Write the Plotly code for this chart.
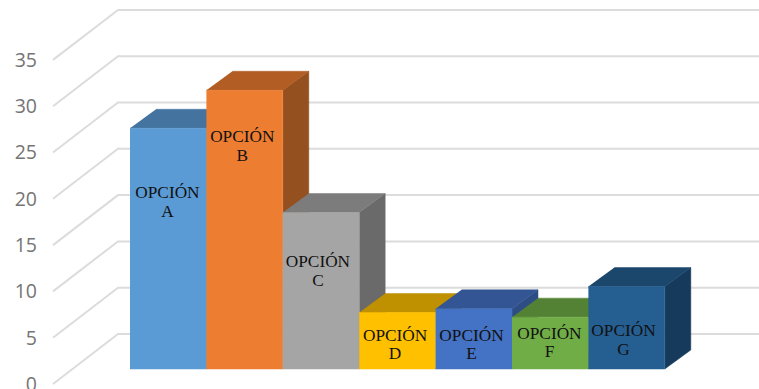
import plotly.graph_objects as go

# Survey results per option
options = ["A", "B", "C", "D", "E", "F", "G"]
values = [26, 30.1, 16.9, 6.1, 6.5, 5.6, 8.9]
front_colors = ["#5b9bd5", "#ed7d31", "#a5a5a5", "#ffc000", "#4472c4", "#70ad47", "#255e91"]
top_colors = ["#44739f", "#b15d24", "#7c7c7c", "#bf9000", "#335593", "#548235", "#1c476d"]
side_colors = ["#3a6488", "#94501e", "#6a6a6a", "#a37b00", "#2e4d85", "#47702e", "#163a5b"]
ticks = [0, 5, 10, 15, 20, 25, 30, 35]

# Label centres, in axis units (bar position, value height)
label_x = [0.49, 1.47, 2.46, 3.47, 4.47, 5.49, 6.46]
label_y = [19.5, 25.55, 12.05, 4.15, 4.15, 4.35, 4.6]

# Oblique projection of the pseudo-3D box
PX_PER_BAR = 76.4
PX_PER_UNIT = 9.26
LEFT, WIDTH, HEIGHT = 38, 759, 389
X0_PX, Y0_PX = 130, 384
BAR_DX, BAR_DY = 26 / PX_PER_BAR, 19 / PX_PER_UNIT
WALL_DX, WALL_DY = 65 / PX_PER_BAR, 50 / PX_PER_UNIT
WALL_X = (53 - X0_PX) / PX_PER_BAR
FLOOR = (Y0_PX - 369) / PX_PER_UNIT
X_MIN = (LEFT - X0_PX) / PX_PER_BAR
X_MAX = (WIDTH - X0_PX) / PX_PER_BAR
Y_MIN = (Y0_PX - HEIGHT) / PX_PER_UNIT
Y_MAX = Y0_PX / PX_PER_UNIT

fig = go.Figure()

# Side-wall diagonals and back-wall gridlines
for t in ticks:
    fig.add_trace(go.Scatter(
        x=[WALL_X, WALL_X + WALL_DX, X_MAX],
        y=[t, t + WALL_DY, t + WALL_DY],
        mode="lines",
        line=dict(color="#dcdcdc", width=2),
        hoverinfo="skip",
    ))


def face(xs, ys, color):
    fig.add_trace(go.Scatter(
        x=xs, y=ys, mode="lines", fill="toself", fillcolor=color,
        line=dict(color=color, width=0.5), hoverinfo="skip",
    ))


# Bars are painted left to right so that each one overlaps its left neighbour
for i, v in enumerate(values):
    top = FLOOR + v
    face([i + 1, i + 1 + BAR_DX, i + 1 + BAR_DX, i + 1],
         [FLOOR, FLOOR + BAR_DY, top + BAR_DY, top], side_colors[i])
    face([i, i + 1, i + 1 + BAR_DX, i + BAR_DX],
         [top, top, top + BAR_DY, top + BAR_DY], top_colors[i])
    face([i, i + 1, i + 1, i], [FLOOR, FLOOR, top, top], front_colors[i])

label_font = dict(family="Liberation Serif", size=17.3, color="#111111")
fig.add_trace(go.Scatter(
    x=label_x, y=[y + 1 for y in label_y], text=["OPCIÓN"] * len(options),
    mode="text", textposition="middle center", textfont=label_font, hoverinfo="skip",
))
fig.add_trace(go.Scatter(
    x=label_x, y=[y - 1 for y in label_y], text=options,
    mode="text", textposition="middle center", textfont=label_font, hoverinfo="skip",
))

fig.update_layout(
    width=WIDTH,
    height=HEIGHT,
    margin=dict(l=LEFT, r=0, t=0, b=0, autoexpand=False),
    paper_bgcolor="white",
    plot_bgcolor="white",
    showlegend=False,
    xaxis=dict(range=[X_MIN, X_MAX], visible=False, fixedrange=True),
    yaxis=dict(
        range=[Y_MIN, Y_MAX],
        tickmode="array",
        tickvals=ticks,
        ticktext=[str(t) for t in ticks],
        showgrid=False,
        zeroline=False,
        showline=False,
        ticks="",
        ticklabeloverflow="allow",
        tickfont=dict(family="Open Sans", size=19.5, color="#757575"),
        fixedrange=True,
    ),
)

fig.write_html("out.html", config={"displayModeBar": False})
